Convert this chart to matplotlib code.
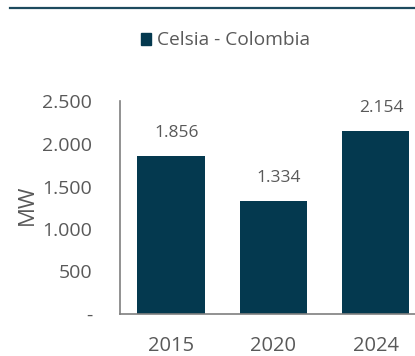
import matplotlib
matplotlib.use("Agg")
import matplotlib.pyplot as plt
from matplotlib.patches import Rectangle
from matplotlib.lines import Line2D

years = ["2015", "2020", "2024"]
values = [1856, 1334, 2154]
yticks = [0, 500, 1000, 1500, 2000, 2500]
ytick_labels = ["-", "500", "1.000", "1.500", "2.000", "2.500"]
series_name = "Celsia - Colombia"

W, H = 415, 356
bar_color = "#04394F"
text_color = "#595959"
font = "Open Sans"

fig = plt.figure(figsize=(W / 100, H / 100), dpi=100)
ax = fig.add_axes([120 / W, (H - 314) / H, 295 / W, (314 - 101.5) / H])

x = list(range(len(years)))
ax.bar(x, values, width=0.66, color=bar_color, zorder=2)
ax.set_ylim(0, 2500)
ax.set_xlim(-0.5, 2.385)
ax.set_yticks(yticks)
ax.set_yticklabels(ytick_labels, fontsize=14, color=text_color, family=font)
ax.set_xticks(x)
ax.set_xticklabels(years, fontsize=14.5, color=text_color, family=font)
ax.tick_params(axis="both", length=0)
ax.tick_params(axis="y", pad=20)
ax.tick_params(axis="x", pad=16)
for s in ["top", "right"]:
    ax.spines[s].set_visible(False)
for s in ["left", "bottom"]:
    ax.spines[s].set_color("#7f7f7f")
    ax.spines[s].set_linewidth(1.2)

for xi, v in zip(x, values):
    ax.annotate(f"{v/1000:.3f}", (xi, v), xytext=(4, 16.5), textcoords="offset points",
                ha="center", va="center", fontsize=12.5, color=text_color, family=font)

fig.text(27 / W, 1 - 205 / H, "MW", rotation=90, ha="center", va="center",
         fontsize=16, color=text_color, family=font)

# top rule
fig.add_artist(Line2D([10 / W, 1.0], [1 - 8 / H, 1 - 8 / H], color="#1d4a5e", lw=1.6))

# legend
fig.add_artist(Rectangle((141 / W, 1 - 45 / H), 10 / W, 12 / H, color=bar_color,
                         transform=fig.transFigure))
fig.text(157 / W, 1 - 40 / H, series_name, ha="left", va="center",
         fontsize=13.8, color=text_color, family=font)

fig.savefig("out.png", dpi=100)
